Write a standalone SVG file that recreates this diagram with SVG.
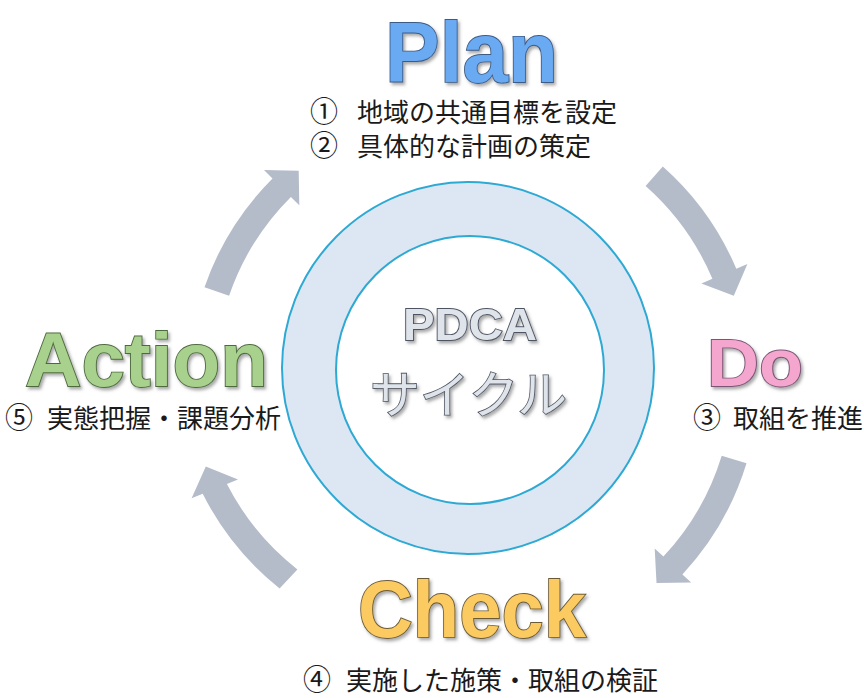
<svg xmlns="http://www.w3.org/2000/svg" width="864" height="698" viewBox="0 0 864 698">
<defs>
<filter id="sh" x="-10%" y="-10%" width="130%" height="140%">
<feDropShadow dx="2" dy="2.5" stdDeviation="1.6" flood-color="#555" flood-opacity="0.5"/>
</filter>
<style>
.head{font-family:"Liberation Sans",Arial,sans-serif;font-weight:bold;stroke-width:1.8;paint-order:stroke fill;filter:url(#sh)}
.body{font-family:"Noto Sans CJK JP","Noto Sans",sans-serif;font-size:26px;fill:#1a1a1a}
.num{font-size:28px}
.arrow{fill:#b5bcc9;stroke:none}
.ring{stroke:#2ea9d4;stroke-width:2}
</style>
</defs>
<rect width="864" height="698" fill="#ffffff"/>
<g id="center">
<circle class="ring" cx="468" cy="368" r="186" fill="#dce7f3"/>
<circle class="ring" cx="470" cy="370" r="134" fill="#ffffff"/>
<text class="head" x="403" y="340" font-size="45" textLength="134" lengthAdjust="spacingAndGlyphs" fill="#dfe3ea" stroke="#4d5563">PDCA</text>
<text x="370" y="413" font-size="50" textLength="197" lengthAdjust="spacingAndGlyphs" fill="#dfe3ea" stroke="#4d5563" stroke-width="1.6" paint-order="stroke fill" filter="url(#sh)" style="font-family:'Noto Sans CJK JP',sans-serif">サイクル</text>
</g>
<g id="connectors">
<path class="arrow" d="M662.8,166.5 A285,285 0 0 1 736.3,268.7 L747.4,264.0 L733.8,295.8 L701.4,283.5 L712.4,278.8 A259,259 0 0 0 645.6,186.0 Z"/>
<path class="arrow" d="M746.5,463.3 A285,285 0 0 1 682.4,574.4 L691.2,582.6 L656.5,583.1 L654.7,548.5 L663.4,556.6 A259,259 0 0 0 721.7,455.7 Z"/>
<path class="arrow" d="M279.6,588.4 A285,285 0 0 1 202.7,493.8 L191.6,498.3 L205.8,466.6 L238.0,479.5 L226.9,484.0 A259,259 0 0 0 297.4,569.4 Z"/>
<path class="arrow" d="M204.5,287.2 A285,285 0 0 1 272.5,178.5 L264.0,170.0 L298.7,170.7 L299.3,205.3 L290.9,196.9 A259,259 0 0 0 229.1,295.7 Z"/>
</g>
<g id="plan">
<text class="head" x="385" y="82" font-size="86" textLength="173" lengthAdjust="spacingAndGlyphs" fill="#6aaaf2" stroke="#3b5b86">Plan</text>
<text class="body" y="122"><tspan class="num" x="310">①</tspan><tspan x="357">地域の共通目標を設定</tspan></text>
<text class="body" y="156"><tspan class="num" x="310">②</tspan><tspan x="357">具体的な計画の策定</tspan></text>
</g>
<g id="do">
<text class="head" x="707" y="386" font-size="66" textLength="96" lengthAdjust="spacingAndGlyphs" fill="#f4a6cf" stroke="#7a5575">Do</text>
<text class="body" y="428"><tspan class="num" x="693">③</tspan><tspan x="733">取組を推進</tspan></text>
</g>
<g id="check">
<text class="head" x="358" y="637" font-size="80" textLength="228" lengthAdjust="spacingAndGlyphs" fill="#fbcb62" stroke="#6b5a35">Check</text>
<text class="body" y="690"><tspan class="num" x="303">④</tspan><tspan x="346">実施した施策・取組の検証</tspan></text>
</g>
<g id="action">
<text class="head" x="25" y="386" font-size="76" textLength="243" lengthAdjust="spacingAndGlyphs" fill="#a9d18e" stroke="#4e6a3e">Action</text>
<text class="body" y="428"><tspan class="num" x="5">⑤</tspan><tspan x="47">実態把握・課題分析</tspan></text>
</g>
</svg>
